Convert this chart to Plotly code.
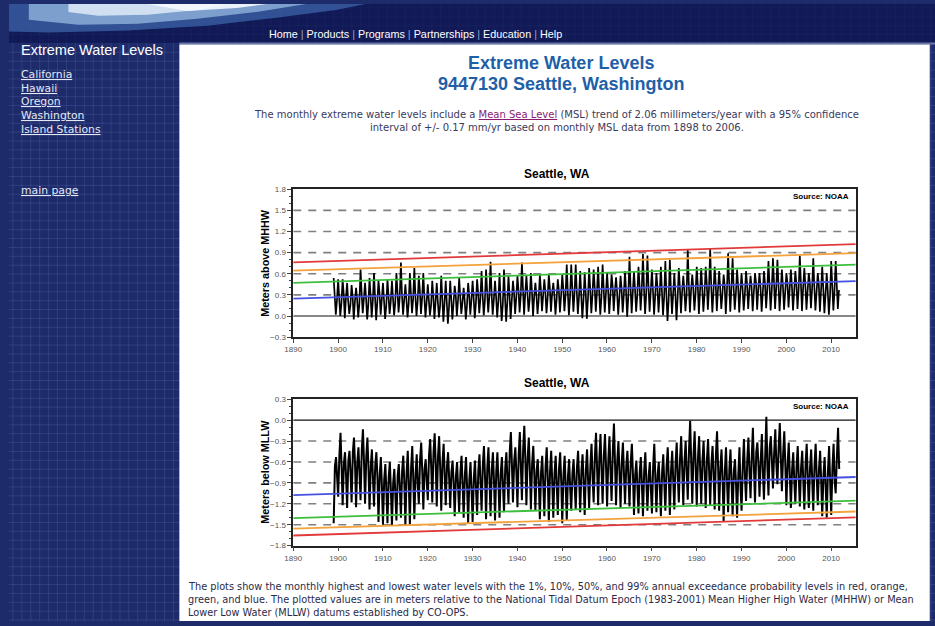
import plotly.graph_objects as go

W, H = 935, 626

# ---------------------------------------------------------------- data
YEARS = list(range(1899, 2012))

# Monthly highest water (m above MHHW): winter peak, spring level, summer low, autumn level
HI_PEAK = [
    0.54, 0.52, 0.52, 0.47, 0.44, 0.40, 0.66, 0.47, 0.54, 0.61,
    0.50, 0.47, 0.52, 0.50, 0.61, 0.76, 0.45, 0.61, 0.68, 0.57,
    0.61, 0.45, 0.50, 0.47, 0.57, 0.50, 0.50, 0.43, 0.54, 0.40,
    0.47, 0.50, 0.52, 0.64, 0.66, 0.77, 0.50, 0.61, 0.66, 0.57,
    0.50, 0.57, 0.76, 0.57, 0.61, 0.47, 0.59, 0.52, 0.59, 0.47,
    0.52, 0.59, 0.73, 0.73, 0.73, 0.64, 0.62, 0.68, 0.66, 0.70,
    0.73, 0.61, 0.59, 0.55, 0.57, 0.64, 0.84, 0.64, 0.70, 0.88,
    0.86, 0.66, 0.61, 0.70, 0.78, 0.80, 0.61, 0.68, 0.57, 0.94,
    0.59, 0.70, 0.68, 0.70, 0.95, 0.70, 0.64, 0.59, 0.89, 0.82,
    0.66, 0.61, 0.64, 0.57, 0.61, 0.61, 0.64, 0.78, 0.82, 0.80,
    0.66, 0.61, 0.66, 0.64, 0.86, 0.68, 0.61, 0.82, 0.61, 0.70,
    0.61, 0.78, 0.78,
]
HI_SPRING = [
    0.30, 0.26, 0.32, 0.22, 0.28, 0.24, 0.34,
    0.25, 0.30, 0.27, 0.33, 0.22, 0.29, 0.26,
    0.35, 0.31, 0.24, 0.33, 0.29, 0.36, 0.27,
    0.23, 0.28, 0.21, 0.26, 0.20, 0.25, 0.30,
    0.28, 0.22, 0.31, 0.26, 0.33, 0.30, 0.36,
    0.32, 0.28, 0.24, 0.26, 0.30, 0.34, 0.37,
    0.39, 0.33, 0.36, 0.30, 0.38, 0.34, 0.40,
    0.31, 0.37, 0.39, 0.35, 0.41, 0.36, 0.30,
    0.33, 0.39, 0.42, 0.35, 0.40, 0.37, 0.43,
    0.34, 0.39, 0.36, 0.42, 0.38, 0.45, 0.40,
    0.43, 0.37, 0.41, 0.36, 0.31, 0.39, 0.33,
    0.42, 0.38, 0.45, 0.40, 0.44, 0.39, 0.47,
    0.43, 0.46, 0.40, 0.44, 0.48, 0.41, 0.43,
    0.39, 0.45, 0.42, 0.47, 0.41, 0.46, 0.44,
    0.49, 0.45, 0.42, 0.47, 0.43, 0.46, 0.48,
    0.44, 0.47, 0.42, 0.45, 0.39, 0.36, 0.44,
    0.46,
]
HI_LOW = [
    0.02, 0.00, -0.03, 0.03, -0.05, -0.02, 0.04,
    -0.05, -0.02, -0.06, 0.02, -0.04, 0.03, 0.01,
    0.05, 0.02, -0.02, 0.04, 0.00, 0.03, -0.02,
    0.01, -0.04, -0.02, -0.08, -0.11, -0.05, 0.00,
    0.03, -0.05, 0.02, -0.03, 0.04, 0.01, 0.05,
    0.02, -0.02, -0.07, -0.08, -0.04, 0.03, 0.05,
    0.02, 0.06, 0.00, 0.03, 0.07, 0.04, 0.06,
    0.02, 0.05, 0.07, 0.01, 0.06, 0.03, -0.03,
    -0.04, 0.04, 0.06, 0.02, 0.05, 0.03, 0.07,
    0.02, 0.05, -0.01, 0.04, 0.06, 0.08, 0.03,
    0.06, 0.02, 0.05, 0.01, -0.07, 0.03, -0.06,
    0.04, 0.07, 0.05, 0.08, 0.03, 0.06, 0.09,
    0.05, 0.07, 0.10, 0.03, 0.06, 0.09, 0.05,
    0.08, 0.10, 0.07, 0.09, 0.06, 0.11, 0.08,
    0.10, 0.07, 0.09, 0.12, 0.08, 0.10, 0.07,
    0.09, 0.11, 0.08, 0.06, 0.04, 0.02, 0.08,
    0.10,
]
HI_AUTUMN = [
    0.22, 0.18, 0.25, 0.15, 0.20, 0.17, 0.24,
    0.16, 0.21, 0.19, 0.23, 0.14, 0.20, 0.18,
    0.26, 0.22, 0.17, 0.24, 0.20, 0.25, 0.19,
    0.15, 0.20, 0.13, 0.18, 0.12, 0.17, 0.21,
    0.19, 0.14, 0.22, 0.18, 0.24, 0.21, 0.27,
    0.23, 0.20, 0.16, 0.18, 0.21, 0.25, 0.28,
    0.30, 0.24, 0.27, 0.22, 0.29, 0.25, 0.31,
    0.23, 0.28, 0.30, 0.26, 0.32, 0.27, 0.22,
    0.24, 0.30, 0.33, 0.26, 0.31, 0.28, 0.34,
    0.25, 0.30, 0.27, 0.33, 0.29, 0.36, 0.31,
    0.34, 0.28, 0.32, 0.27, 0.22, 0.30, 0.24,
    0.33, 0.29, 0.36, 0.31, 0.35, 0.30, 0.38,
    0.34, 0.37, 0.31, 0.35, 0.39, 0.32, 0.34,
    0.30, 0.36, 0.33, 0.38, 0.32, 0.37, 0.35,
    0.40, 0.36, 0.33, 0.38, 0.34, 0.37, 0.39,
    0.35, 0.38, 0.33, 0.36, 0.30, 0.27, 0.35,
    0.37,
]

# Monthly lowest water (m below MLLW): winter low, spring level, summer high, autumn level
LO_BOT = [
    -1.48,
    -1.10, -1.22, -1.26, -1.18, -1.25, -1.15, -1.20, -1.28, -1.24,
    -1.46, -1.50, -1.48, -1.52, -1.44, -1.40, -1.52, -1.50, -1.42,
    -1.20, -1.28, -1.15, -1.18, -1.24, -1.30, -1.22, -1.26,
    -1.38, -1.32, -1.40, -1.48, -1.46, -1.36, -1.30, -1.42, -1.38, -1.44, -1.40, -1.32,
    -1.20, -1.18, -1.25, -1.15, -1.22, -1.28, -1.30,
    -1.42, -1.38, -1.46, -1.40, -1.36, -1.48, -1.44,
    -1.30, -1.28, -1.32, -1.36, -1.26,
    -1.18, -1.22, -1.20, -1.24, -1.16, -1.22, -1.26, -1.20, -1.24,
    -1.36, -1.34, -1.38, -1.30, -1.34,
    -1.32, -1.38, -1.30, -1.36, -1.28,
    -1.18, -1.22, -1.14, -1.20, -1.24,
    -1.20, -1.26, -1.22, -1.28, -1.30,
    -1.45, -1.32, -1.38, -1.40, -1.30,
    -1.16, -1.12, -1.18, -1.10, -1.14, -1.08,
    -0.98, -0.92, -1.02,
    -1.22, -1.26, -1.20, -1.24,
    -1.28, -1.26, -1.30, -1.22,
    -1.38, -1.40, -1.36, -1.05,
]
LO_SPRING = [
    -0.66, -0.50, -0.62, -0.58, -0.46, -0.60, -0.42, -0.52, -0.66, -0.64,
    -0.78, -0.85, -0.82, -0.90, -0.80, -0.72, -0.75, -0.68, -0.76,
    -0.56, -0.70, -0.50, -0.46, -0.52, -0.60, -0.66, -0.74,
    -0.80, -0.74, -0.78, -0.84, -0.82, -0.72, -0.64, -0.68, -0.70, -0.73, -0.76, -0.68,
    -0.46, -0.58, -0.50, -0.40, -0.54, -0.62, -0.72,
    -0.74, -0.66, -0.72, -0.76, -0.70, -0.78, -0.80,
    -0.76, -0.68, -0.72, -0.70, -0.64,
    -0.52, -0.54, -0.50, -0.56, -0.44, -0.58, -0.60, -0.66, -0.60,
    -0.78, -0.75, -0.72, -0.80, -0.66,
    -0.78, -0.74, -0.66, -0.70, -0.62,
    -0.54, -0.58, -0.42, -0.50, -0.54,
    -0.58, -0.56, -0.62, -0.50, -0.68,
    -0.72, -0.70, -0.74, -0.78, -0.64,
    -0.56, -0.52, -0.46, -0.58, -0.50, -0.40,
    -0.46, -0.38, -0.48,
    -0.62, -0.70, -0.66, -0.68,
    -0.64, -0.68, -0.64, -0.70,
    -0.78, -0.72, -0.68, -0.50,
]
LO_TOP = [
    -0.53, -0.18, -0.46, -0.44, -0.25, -0.39, -0.13, -0.25, -0.42, -0.46,
    -0.53, -0.63, -0.60, -0.70, -0.63, -0.51, -0.44, -0.37, -0.49, -0.32,
    -0.56, -0.27, -0.19, -0.23, -0.34, -0.46, -0.58, -0.60, -0.51, -0.53,
    -0.60, -0.58, -0.49, -0.37, -0.39, -0.46, -0.46, -0.53, -0.46, -0.17,
    -0.39, -0.17, -0.08, -0.25, -0.37, -0.56, -0.51, -0.39, -0.44, -0.51,
    -0.46, -0.51, -0.56,
    -0.56, -0.44, -0.49, -0.42, -0.34, -0.18, -0.20, -0.20, -0.23, -0.05,
    -0.30, -0.32, -0.44, -0.34, -0.58, -0.53, -0.46, -0.60, -0.34, -0.60,
    -0.49, -0.39, -0.44, -0.32, -0.23, -0.30, -0.01, -0.16, -0.23, -0.30,
    -0.27, -0.37, -0.16, -0.42, -0.39, -0.42, -0.56, -0.39, -0.27, -0.25,
    -0.11, -0.32, -0.20, 0.05, -0.23, -0.13, -0.04, -0.16, -0.32, -0.46,
    -0.37, -0.44, -0.34, -0.42, -0.34, -0.44, -0.53, -0.37, -0.34, -0.11,
]
LO_AUTUMN = [
    -0.85, -0.70, -0.82, -0.78, -0.66, -0.80, -0.62, -0.72, -0.86, -0.84,
    -0.98, -1.05, -1.02, -1.10, -1.00, -0.92, -0.95, -0.88, -0.96,
    -0.76, -0.90, -0.70, -0.66, -0.72, -0.80, -0.86, -0.94,
    -1.00, -0.94, -0.98, -1.04, -1.02, -0.92, -0.84, -0.88, -0.90, -0.93, -0.96, -0.88,
    -0.66, -0.78, -0.70, -0.60, -0.74, -0.82, -0.92,
    -0.94, -0.86, -0.92, -0.96, -0.90, -0.98, -1.00,
    -0.96, -0.88, -0.92, -0.90, -0.84,
    -0.72, -0.74, -0.70, -0.76, -0.64, -0.78, -0.80, -0.86, -0.80,
    -0.98, -0.95, -0.92, -1.00, -0.86,
    -0.98, -0.94, -0.86, -0.90, -0.82,
    -0.74, -0.78, -0.62, -0.70, -0.74,
    -0.78, -0.76, -0.82, -0.70, -0.88,
    -0.92, -0.90, -0.94, -0.98, -0.84,
    -0.76, -0.72, -0.66, -0.78, -0.70, -0.60,
    -0.66, -0.58, -0.68,
    -0.82, -0.90, -0.86, -0.88,
    -0.84, -0.88, -0.84, -0.90,
    -0.98, -0.92, -0.88, -0.70,
]

# Exceedance-probability trend lines (value at start and end of the axis)
TREND_X = [1890, 2015.5]
HI_RED = [0.763, 1.020]
HI_ORANGE = [0.646, 0.893]
HI_GREEN = [0.472, 0.730]
HI_BLUE = [0.247, 0.496]
LO_RED = [-1.655, -1.396]
LO_ORANGE = [-1.556, -1.311]
LO_GREEN = [-1.406, -1.156]
LO_BLUE = [-1.075, -0.816]

HI_DASH = [0.3, 0.6, 0.9, 1.2, 1.5]
LO_DASH = [-0.3, -0.6, -0.9, -1.2, -1.5]
HI_YTICKS = [-0.3, 0.0, 0.3, 0.6, 0.9, 1.2, 1.5, 1.8]
LO_YTICKS = [-1.8, -1.5, -1.2, -0.9, -0.6, -0.3, 0.0, 0.3]
X_TICKS = list(range(1890, 2011, 10))

for arr in (HI_PEAK, HI_SPRING, HI_LOW, HI_AUTUMN, LO_BOT, LO_SPRING, LO_TOP, LO_AUTUMN):
    assert len(arr) == len(YEARS), len(arr)

# ---------------------------------------------------------------- helpers
NAVY = "#1e2b6a"
TITLE_BLUE = "#1f5fa8"
RED, ORANGE, GREEN, BLUE = "#e23a3a", "#f4a23c", "#3cbf3c", "#4650e0"


def px(x):
    return x / W


def py(y):
    return 1 - y / H


def seasonal(series, offs):
    xs, ys = [], []
    for i, yr in enumerate(YEARS):
        for s, o in zip(series, offs):
            xs.append(yr + o)
            ys.append(s[i])
    return xs, ys


def path(points):
    s = "M " + " L ".join(f"{px(x):.5f},{py(y):.5f}" for x, y in points)
    return s + " Z"


fig = go.Figure()

# ---------------------------------------------------------------- traces
hx, hy = seasonal((HI_PEAK, HI_SPRING, HI_LOW, HI_AUTUMN), (0.02, 0.25, 0.5, 0.75))
lx, ly = seasonal((LO_BOT, LO_SPRING, LO_TOP, LO_AUTUMN), (0.02, 0.3, 0.55, 0.8))

fig.add_trace(go.Scatter(x=hx, y=hy, mode="lines", xaxis="x", yaxis="y",
                         line=dict(color="#000000", width=1.7), hoverinfo="skip"))
for vals, col in ((HI_RED, RED), (HI_ORANGE, ORANGE), (HI_GREEN, GREEN), (HI_BLUE, BLUE)):
    fig.add_trace(go.Scatter(x=TREND_X, y=vals, mode="lines", xaxis="x", yaxis="y",
                             line=dict(color=col, width=1.8), hoverinfo="skip"))

fig.add_trace(go.Scatter(x=lx, y=ly, mode="lines", xaxis="x2", yaxis="y2",
                         line=dict(color="#000000", width=2.0), hoverinfo="skip"))
for vals, col in ((LO_RED, RED), (LO_ORANGE, ORANGE), (LO_GREEN, GREEN), (LO_BLUE, BLUE)):
    fig.add_trace(go.Scatter(x=TREND_X, y=vals, mode="lines", xaxis="x2", yaxis="y2",
                             line=dict(color=col, width=1.8), hoverinfo="skip"))

# ---------------------------------------------------------------- page chrome
shapes = []
shapes.append(dict(type="rect", xref="paper", yref="paper", x0=0, x1=1, y0=0, y1=1,
                   fillcolor=NAVY, line_width=0, layer="below"))
grid_col = "rgba(110,130,200,0.22)"
for gx in range(4, W, 9):
    shapes.append(dict(type="line", xref="paper", yref="paper", x0=px(gx), x1=px(gx),
                       y0=0, y1=1, line=dict(color=grid_col, width=1), layer="below"))
for gy in range(4, H, 9):
    shapes.append(dict(type="line", xref="paper", yref="paper", x0=0, x1=1,
                       y0=py(gy), y1=py(gy), line=dict(color=grid_col, width=1), layer="below"))
# header band
shapes.append(dict(type="rect", xref="paper", yref="paper", x0=0, x1=1, y0=py(40), y1=1,
                   fillcolor="rgba(14,22,80,0.75)", line_width=0, layer="below"))
# wave artwork in the banner
shapes.append(dict(type="path", xref="paper", yref="paper", layer="below",
                   path=path([(0, 0), (360, 0), (330, 6), (270, 14), (200, 22), (120, 27), (40, 29), (0, 28)]),
                   fillcolor="rgba(60,100,170,0.75)", line_width=0))
shapes.append(dict(type="path", xref="paper", yref="paper", layer="below",
                   path=path([(20, 0), (300, 0), (250, 8), (190, 15), (130, 20), (70, 21), (20, 16)]),
                   fillcolor="rgba(150,185,225,0.75)", line_width=0))
shapes.append(dict(type="path", xref="paper", yref="paper", layer="below",
                   path=path([(60, 0), (220, 0), (190, 6), (140, 11), (90, 12), (60, 8)]),
                   fillcolor="rgba(230,240,250,0.8)", line_width=0))
shapes.append(dict(type="path", xref="paper", yref="paper", layer="below",
                   path=path([(140, 0), (260, 0), (230, 4), (180, 7)]),
                   fillcolor="rgba(245,250,255,0.9)", line_width=0))
shapes.append(dict(type="line", xref="paper", yref="paper", x0=px(172), x1=1,
                   y0=py(40), y1=py(40), line=dict(color="#6a78a8", width=2), layer="below"))
# white content panel
shapes.append(dict(type="rect", xref="paper", yref="paper", x0=px(172), x1=px(929),
                   y0=0, y1=py(41), fillcolor="#ffffff", line_width=0, layer="below"))
shapes.append(dict(type="line", xref="paper", yref="paper", x0=px(929.5), x1=px(929.5),
                   y0=0, y1=py(41), line=dict(color="#c8d2e8", width=1), layer="below"))

# reference levels inside the two charts
for lvl in HI_DASH:
    shapes.append(dict(type="line", xref="x", yref="y", x0=TREND_X[0], x1=TREND_X[1], y0=lvl, y1=lvl,
                       line=dict(color="#808080", width=1.6, dash="8px,7px"), layer="below"))
for lvl in LO_DASH:
    shapes.append(dict(type="line", xref="x2", yref="y2", x0=TREND_X[0], x1=TREND_X[1], y0=lvl, y1=lvl,
                       line=dict(color="#808080", width=1.6, dash="8px,7px"), layer="below"))
shapes.append(dict(type="line", xref="x", yref="y", x0=TREND_X[0], x1=TREND_X[1], y0=0, y1=0,
                   line=dict(color="#111111", width=1.2), layer="below"))
shapes.append(dict(type="line", xref="x2", yref="y2", x0=TREND_X[0], x1=TREND_X[1], y0=0, y1=0,
                   line=dict(color="#111111", width=1.2), layer="below"))

# ---------------------------------------------------------------- text
ARIAL = "Liberation Sans"
VERD = "DejaVu Sans"
ann = []


def text(x, y, s, size, color, family=ARIAL, anchor="left", angle=0):
    ann.append(dict(x=px(x), y=py(y), xref="paper", yref="paper", text=s, showarrow=False,
                    xanchor=anchor, yanchor="middle", textangle=angle, borderpad=0,
                    font=dict(family=family, size=size, color=color)))


sep = " <span style='color:#9aa6cc'>|</span> "
text(262, 30, sep.join(["Home", "Products", "Programs", "Partnerships", "Education", "Help"]),
     10.8, "#ffffff")

text(11, 47, "Extreme Water Levels", 14.5, "#ffffff")
for yy, s in ((72, "California"), (86, "Hawaii"), (99, "Oregon"), (113, "Washington"),
              (127, "Island Stations"), (189, "main page")):
    text(11, yy, f"<span style='text-decoration:underline'>{s}</span>", 10.8, "#e4e8f4", VERD)

text(557, 60, "<b>Extreme Water Levels</b>", 18, TITLE_BLUE, anchor="center")
text(557, 81, "<b>9447130 Seattle, Washington</b>", 18, TITLE_BLUE, anchor="center")

para_col = "#3a3a5c"
text(553, 112, "The monthly extreme water levels include a "
     "<span style='color:#8a1c70;text-decoration:underline'>Mean Sea Level</span> "
     "(MSL) trend of 2.06 millimeters/year with a 95% confidence", 10, para_col, VERD, "center")
text(553, 125, "interval of +/- 0.17 mm/yr based on monthly MSL data from 1898 to 2006.",
     10, para_col, VERD, "center")

text(553, 172, "<b>Seattle, WA</b>", 12, "#000000", anchor="center")
text(553, 385, "<b>Seattle, WA</b>", 12, "#000000", anchor="center")
text(849, 195, "<b>Source: NOAA</b>", 8, "#000000", anchor="right")
text(849, 408, "<b>Source: NOAA</b>", 8, "#000000", anchor="right")
text(259, 263, "<b>Meters above MHHW</b>", 10.8, "#000000", anchor="center", angle=-90)
text(259, 475, "<b>Meters below MLLW</b>", 10.8, "#000000", anchor="center", angle=-90)

foot_col = "#2a2a48"
text(180, 591, "The plots show the monthly highest and lowest water levels with the 1%, 10%, 50%, "
     "and 99% annual exceedance probability levels in red, orange,", 9.75, foot_col, VERD)
text(180, 604, "green, and blue. The plotted values are in meters relative to the National Tidal "
     "Datum Epoch (1983-2001) Mean Higher High Water (MHHW) or Mean", 9.75, foot_col, VERD)
text(180, 617, "Lower Low Water (MLLW) datums established by CO-OPS.", 9.75, foot_col, VERD)

# ---------------------------------------------------------------- axes
tickfont = dict(family=ARIAL, size=8, color="#555555")
xcommon = dict(range=[TREND_X[0], TREND_X[1]], tickvals=X_TICKS, ticks="outside", ticklen=4,
               tickcolor="#444444", tickfont=tickfont, showline=True, linecolor="#222222",
               linewidth=1.5, mirror=True, showgrid=False, zeroline=False, fixedrange=True,
               domain=[px(287), px(855)])
ycommon = dict(ticks="outside", ticklen=4, tickcolor="#444444", tickfont=tickfont, tickformat=".1f",
               showline=True, linecolor="#222222", linewidth=1.5, mirror=True, showgrid=False,
               zeroline=False, fixedrange=True,
               minor=dict(dtick=0.1, ticks="outside", ticklen=2, tickcolor="#444444", showgrid=False))

fig.update_layout(
    width=W, height=H, margin=dict(l=0, r=0, t=0, b=0),
    paper_bgcolor=NAVY, plot_bgcolor="rgba(0,0,0,0)", showlegend=False,
    xaxis=dict(anchor="y", **xcommon),
    yaxis=dict(anchor="x", range=[-0.3, 1.8], tickvals=HI_YTICKS,
               domain=[py(338), py(188)], **ycommon),
    xaxis2=dict(anchor="y2", **xcommon),
    yaxis2=dict(anchor="x2", range=[-1.8, 0.3], tickvals=LO_YTICKS,
                domain=[py(549.5), py(401)], **ycommon),
    shapes=shapes, annotations=ann,
)

fig.write_html("out.html")
